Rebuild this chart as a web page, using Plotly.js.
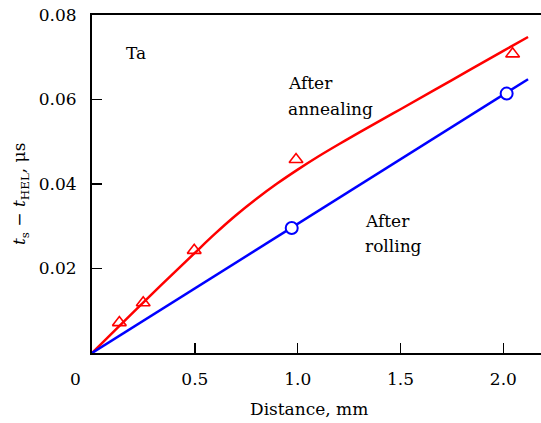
<!DOCTYPE html>
<html>
<head>
<meta charset="utf-8">
<script src="https://cdn.plot.ly/plotly-3.0.1.min.js"></script>
<style>html,body{margin:0;padding:0;overflow:hidden;background:#fff}</style>
</head>
<body>
<div id="chart" style="width:541px;height:423px"></div>
<script>
// After annealing: fitted curve
const annealLineX = [0, 0.25, 0.5, 0.6, 0.7, 0.8, 0.9, 1.0, 1.1, 1.2, 1.3, 1.5, 1.75, 2.0, 2.12];
const annealLineY = [0, 0.0120, 0.0237, 0.0283, 0.0326, 0.0365, 0.0401, 0.0434, 0.0465, 0.0494, 0.0522, 0.0577, 0.0646, 0.0715, 0.0748];
// After annealing: measured points
const annealPtsX = [0.133, 0.249, 0.497, 0.992, 2.045];
const annealPtsY = [0.0072, 0.0119, 0.0243, 0.0458, 0.0708];
// After rolling: fitted line
const rollLineX = [0, 2.12];
const rollLineY = [0, 0.0648];
// After rolling: measured points
const rollPtsX = [0.971, 2.016];
const rollPtsY = [0.0296, 0.0614];
// Tick labels
const xTickVals = [0.5, 1.0, 1.5, 2.0];
const xTickText = ['0.5', '1.0', '1.5', '2.0'];
const yTickVals = [0.02, 0.04, 0.06, 0.08];
const yTickText = ['0.02', '0.04', '0.06', '0.08'];

const serif = "DejaVu Serif";
const fs = 17;

const traces = [
  {x: annealLineX, y: annealLineY, mode: 'lines', line: {color: '#ff0000', width: 2.5, shape: 'spline', smoothing: 1}, hoverinfo: 'skip'},
  {x: rollLineX, y: rollLineY, mode: 'lines', line: {color: '#0000ff', width: 2.5}, hoverinfo: 'skip'},
  {x: annealPtsX, y: annealPtsY, mode: 'markers', cliponaxis: false,
   marker: {symbol: 'triangle-up-open', size: 12, color: '#ff0000', line: {width: 1.6, color: '#ff0000'}}},
  {x: rollPtsX, y: rollPtsY, mode: 'markers', cliponaxis: false,
   marker: {symbol: 'circle', size: 12, color: '#ffffff', line: {width: 2, color: '#0000ff'}}}
];

function note(text, x, y) {
  return {text: text, xref: 'x', yref: 'y', x: x, y: y, xanchor: 'left', yanchor: 'middle', showarrow: false, font: {family: serif, size: fs, color: '#000'}};
}

const layout = {
  width: 541, height: 423,
  margin: {l: 92, r: 0, t: 15, b: 70},
  paper_bgcolor: '#fff', plot_bgcolor: '#fff',
  showlegend: false,
  font: {family: serif, size: fs, color: '#000'},
  xaxis: {
    range: [0, 2.183], showgrid: false, zeroline: false,
    showline: true, linecolor: '#000', linewidth: 2, mirror: true,
    ticks: 'inside', ticklen: 10, tickwidth: 1.5, tickcolor: '#000',
    tickvals: xTickVals, ticktext: xTickText, ticklabelstandoff: 10,
    tickfont: {family: serif, size: fs, color: '#000'}
  },
  yaxis: {
    range: [0, 0.08], showgrid: false, zeroline: false,
    showline: true, linecolor: '#000', linewidth: 2,
    ticks: 'inside', ticklen: 10, tickwidth: 1.5, tickcolor: '#000',
    tickvals: yTickVals, ticktext: yTickText, ticklabelstandoff: 10,
    tickfont: {family: serif, size: fs, color: '#000'}
  },
  annotations: [
    {text: '0', xref: 'paper', yref: 'paper', x: 0, y: 0, xanchor: 'center', yanchor: 'middle', xshift: -17, yshift: -26, showarrow: false, font: {family: serif, size: fs}},
    {text: 'Distance, mm', xref: 'paper', yref: 'paper', x: 0, y: 0, xanchor: 'center', yanchor: 'middle', xshift: 217, yshift: -56, showarrow: false, font: {family: serif, size: fs}},
    {text: '<i>t</i><sub>s</sub> − <i>t</i><sub>HEL</sub>, μs', xref: 'paper', yref: 'paper', x: 0, y: 0.5, xanchor: 'center', yanchor: 'middle', xshift: -72, yshift: -10, textangle: -90, showarrow: false, font: {family: serif, size: fs}},
    note('Ta', 0.155, 0.0709),
    note('After', 0.943, 0.0638),
    note('annealing', 0.943, 0.0577),
    note('After', 1.316, 0.0313),
    note('rolling', 1.316, 0.0254)
  ]
};

Plotly.newPlot('chart', traces, layout, {displayModeBar: false, staticPlot: true});
</script>
</body>
</html>
